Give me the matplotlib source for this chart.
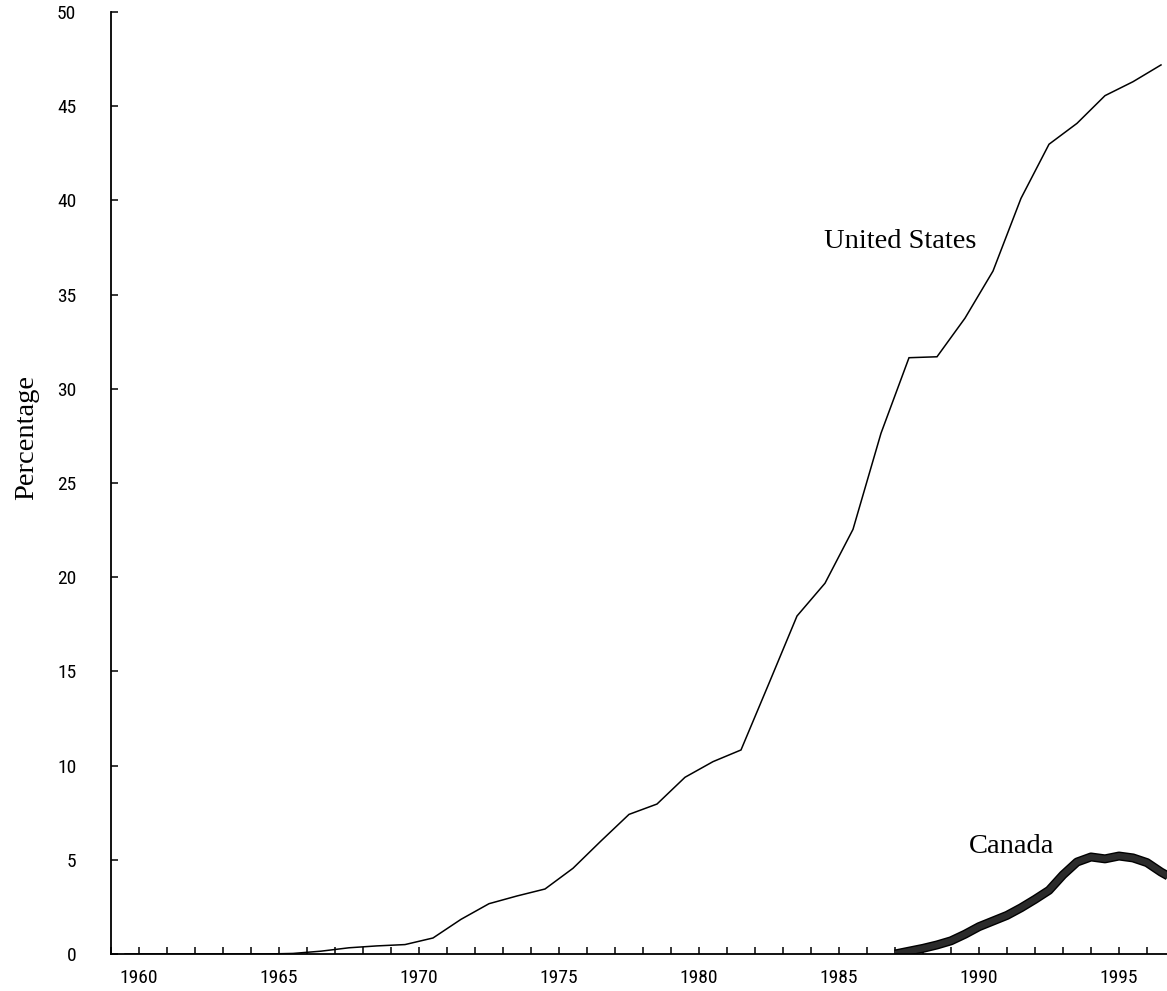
import matplotlib
matplotlib.use("Agg")
import matplotlib.pyplot as plt
from matplotlib.ticker import MultipleLocator, FuncFormatter
from matplotlib import font_manager as fm

# ---- data ----
us_years = [1959.5, 1960.5, 1961.5, 1962.5, 1963.5, 1964.5, 1965.5, 1966.5, 1967.5,
            1968.5, 1969.5, 1970.5, 1971.5, 1972.5, 1973.5, 1974.5, 1975.5, 1976.5,
            1977.5, 1978.5, 1979.5, 1980.5, 1981.5, 1982.5, 1983.5, 1984.5, 1985.5,
            1986.5, 1987.5, 1988.5, 1989.5, 1990.5, 1991.5, 1992.5, 1993.5, 1994.5,
            1995.5, 1996.5]
us_values = [0.0, 0.0, 0.0, 0.0, 0.0, 0.0, 0.03, 0.15, 0.33,
             0.43, 0.5, 0.85, 1.84, 2.67, 3.08, 3.45, 4.55, 6.0,
             7.41, 7.96, 9.38, 10.21, 10.83, 14.37, 17.94, 19.68, 22.54,
             27.64, 31.65, 31.7, 33.75, 36.25, 40.11, 42.98, 44.09, 45.56,
             46.3, 47.19]

ca_years = [1987.0, 1987.5, 1988.0, 1988.5, 1989.0, 1989.5, 1990.0, 1990.5, 1991.0,
            1991.5, 1992.0, 1992.5, 1993.0, 1993.5, 1994.0, 1994.5, 1995.0, 1995.5,
            1996.0, 1996.5, 1996.8]
ca_values = [0.0, 0.15, 0.3, 0.48, 0.7, 1.05, 1.45, 1.75, 2.05,
             2.45, 2.9, 3.38, 4.2, 4.88, 5.15, 5.05, 5.2, 5.1,
             4.85, 4.35, 4.1]

y_label = "Percentage"
us_label = "United States"
ca_label = "Canada"

# condensed sans for tick labels if one is installed
names = {f.name for f in fm.fontManager.ttflist}
tick_font = [n for n in ["Liberation Sans Narrow", "Arial Narrow", "Roboto Condensed",
                         "Open Sans Condensed", "DejaVu Sans"] if n in names] or ["DejaVu Sans"]

W, H = 1167, 991
fig = plt.figure(figsize=(W / 100, H / 100), dpi=100)
ax = fig.add_axes([111 / W, 1 - 954 / H, (W - 111) / W, (954 - 12) / H])

ax.plot(us_years, us_values, color="black", lw=1.1, solid_joinstyle="miter")
ax.plot(ca_years, ca_values, color="black", lw=6.5, solid_capstyle="butt")
ax.plot(ca_years, ca_values, color="#2b2b2b", lw=4.5, solid_capstyle="butt")

ax.set_xlim(1959.0, 1959.0 + (W - 111) / 28.0)
ax.set_ylim(0, 50)

for s in ["top", "right"]:
    ax.spines[s].set_visible(False)
for s in ["left", "bottom"]:
    ax.spines[s].set_linewidth(1.3)

ax.xaxis.set_major_locator(MultipleLocator(1))
ax.xaxis.set_major_formatter(FuncFormatter(lambda v, p: f"{int(round(v))}" if int(round(v)) % 5 == 0 else ""))
ax.yaxis.set_major_locator(MultipleLocator(5))
ax.tick_params(axis="x", direction="in", length=5, width=1.1, pad=11, labelsize=14)
ax.tick_params(axis="y", direction="in", length=5, width=1.1, pad=25, labelsize=14)
for lab in ax.get_xticklabels() + ax.get_yticklabels():
    lab.set_family(tick_font)
    lab.set_stretch("condensed")

serif = ["Liberation Serif", "DejaVu Serif"]
ax.text(1987.19, 37.8, us_label, family=serif, fontsize=20.5, ha="center", va="center")
ax.text(1991.18, 5.73, ca_label, family=serif, fontsize=20.5, ha="center", va="center")
fig.text(27 / W, 1 - 437 / H, y_label, family=serif, fontsize=20.5, rotation=90,
         ha="center", va="center")

fig.savefig("out.png", dpi=100)
